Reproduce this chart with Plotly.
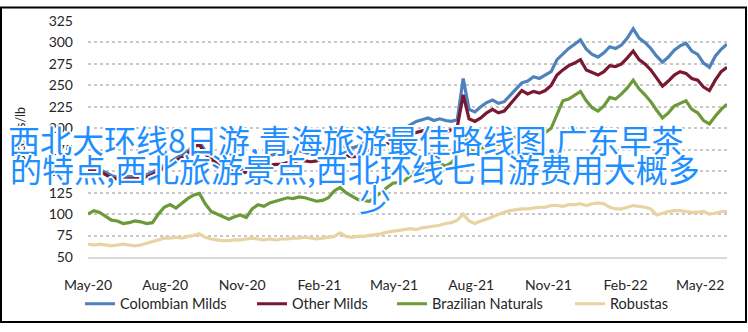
import pandas as pd
import plotly.graph_objects as go

# Weekly coffee group indicator prices, May 2020 - early June 2022 (US cents/lb)
start_date = "2020-05-01"
end_date = "2022-06-02"

colombian_milds = [
    155, 154, 152, 148, 145, 143, 142, 144, 143, 145,
    146, 149, 153, 157, 161, 165, 168, 173, 180, 184,
    174, 168, 164, 160, 157, 154, 152, 155, 160, 163,
    166, 168, 170, 169, 172, 171, 174, 172, 170, 173,
    176, 175, 178, 180, 178, 177, 179, 183, 186, 189,
    190, 192, 190, 193, 200, 204, 208, 210, 212, 209,
    211, 209, 208, 210, 258, 222, 219, 225, 230, 233,
    229, 231, 238, 246, 253, 255, 260, 258, 262, 266,
    280, 287, 293, 298, 303, 292, 286, 283, 288, 295,
    293, 297, 305, 316, 305, 300, 293, 284, 277, 283,
    291, 296, 299, 290, 286, 276, 271, 284, 292, 298,
]

other_milds = [
    152, 151, 150, 146, 142, 141, 140, 141, 141, 142,
    143, 146, 150, 154, 158, 161, 165, 170, 178, 181,
    170, 164, 160, 156, 152, 149, 147, 149, 152, 154,
    156, 157, 158, 158, 160, 160, 163, 162, 161, 162,
    165, 165, 166, 168, 168, 167, 167, 171, 175, 178,
    180, 182, 184, 186, 188, 192, 195, 197, 197, 196,
    195, 195, 198, 202, 239, 211, 208, 212, 218, 222,
    218, 220, 228, 236, 244, 240, 243, 241, 244, 250,
    262, 268, 273, 276, 280, 268, 265, 262, 266, 273,
    272, 275, 282, 290, 280, 275, 268, 258, 249, 255,
    262, 266, 264, 258, 256, 248, 244, 256, 266, 271,
]

brazilian_naturals = [
    100, 104, 102, 97, 93, 92, 89, 90, 92, 91,
    89, 90, 100, 108, 111, 107, 113, 118, 122, 124,
    112, 103, 100, 97, 94, 97, 99, 96, 106, 111,
    109, 113, 115, 117, 119, 118, 120, 119, 117, 115,
    116, 119, 127, 131, 125, 121, 117, 116, 115, 120,
    126, 131, 136, 137, 139, 145, 149, 151, 154, 157,
    159, 156, 160, 168, 200, 176, 172, 176, 180, 183,
    181, 183, 186, 190, 188, 185, 190, 193, 195, 200,
    217, 232, 234, 238, 243, 232, 224, 220, 226, 236,
    234, 240, 247, 256, 246, 239, 231, 221, 212, 218,
    226, 229, 232, 222, 218, 209, 205, 214, 222, 228,
]

robustas = [
    65, 64, 65, 64, 63, 64, 65, 64, 63, 64,
    66, 68, 70, 72, 72, 73, 72, 74, 75, 77,
    73, 71, 70, 69, 69, 70, 70, 71, 72, 71,
    70, 71, 70, 71, 71, 72, 72, 73, 72, 71,
    72, 73, 74, 78, 74, 73, 74, 74, 75, 76,
    77, 79, 80, 81, 82, 83, 82, 84, 85, 86,
    87, 89, 90, 93, 100, 92, 89, 92, 94, 97,
    100, 102, 104, 105, 106, 106, 107, 108, 108, 110,
    110, 109, 111, 111, 112, 110, 112, 113, 112, 108,
    106, 106, 108, 110, 109, 108, 106, 99, 101, 103,
    104, 104, 103, 102, 102, 103, 100, 101, 103, 103,
]

series_names = ["Colombian Milds", "Other Milds", "Brazilian Naturals", "Robustas"]
series_colors = ["#4F81BD", "#7A1731", "#6C9A3B", "#E8D3A2"]
series_values = [colombian_milds, other_milds, brazilian_naturals, robustas]

y_ticks = [50, 75, 100, 125, 150, 175, 200, 225, 250, 275, 300, 325]
x_tick_labels = ["May-20", "Aug-20", "Nov-20", "Feb-21", "May-21",
                 "Aug-21", "Nov-21", "Feb-22", "May-22"]
x_tick_dates = pd.date_range("2020-05-01", periods=len(x_tick_labels), freq="3MS")

overlay_lines = [
    "西北大环线8日游,青海旅游最佳路线图,广东早茶",
    "的特点,西北旅游景点,西北环线七日游费用大概多",
    "少",
]

dates = pd.date_range(start_date, end_date, periods=len(colombian_milds))

W, H = 748, 332
ml, mr, mt, mb = 88, 21, 15, 70
pw, ph = W - ml - mr, H - mt - mb


def px_x(x):
    return (x - ml) / pw


def px_y(y):
    return (mt + ph - y) / ph


font_main = "Lato, 'Noto Sans', sans-serif"
legend_ids = ["legend", "legend2", "legend3", "legend4"]
legend_left = [80, 252, 392, 570]

fig = go.Figure()
for name, color, values, lid in zip(series_names, series_colors, series_values, legend_ids):
    fig.add_trace(go.Scatter(
        x=dates, y=values, name=name, mode="lines",
        line=dict(color=color, width=3.2), legend=lid,
    ))

legend_layouts = {
    lid: dict(
        orientation="h", x=px_x(left), xanchor="left",
        y=px_y(311), yanchor="middle",
        font=dict(size=14.5, color="#262626"), itemwidth=30,
        bgcolor="rgba(0,0,0,0)",
    )
    for lid, left in zip(legend_ids, legend_left)
}

fig.update_layout(
    width=W, height=H,
    margin=dict(l=ml, r=mr, t=mt, b=mb),
    paper_bgcolor="white", plot_bgcolor="white",
    font=dict(family=font_main, size=14, color="#262626"),
    showlegend=True,
    xaxis=dict(
        range=[dates[0], dates[-1]],
        tickvals=x_tick_dates, ticktext=x_tick_labels,
        showgrid=False, zeroline=False,
        showline=True, linecolor="#D9D9D9", linewidth=2,
        ticks="", ticklabelstandoff=14,
        tickfont=dict(size=14),
    ),
    yaxis=dict(
        range=[50, 325], tickvals=y_ticks,
        showgrid=True, gridcolor="#C8C8C8", griddash="dot", gridwidth=1.5,
        zeroline=False, showline=False, ticks="",
        ticklabelstandoff=14,
        tickfont=dict(size=14),
        title=dict(text="US cents/lb", font=dict(size=12.5, color="#262626"),
                   standoff=20),
    ),
    **legend_layouts,
)

# frame around the whole figure
fig.add_shape(
    type="rect", xref="paper", yref="paper",
    x0=px_x(1), x1=px_x(W - 2), y0=px_y(H - 2), y1=px_y(1),
    line=dict(color="black", width=2), fillcolor="rgba(0,0,0,0)", layer="above",
)

outline = ", ".join(f"{dx}px {dy}px 0 white" for dx, dy in
                    [(1, 1), (-1, -1), (1, -1), (-1, 1), (0, 2), (0, -2), (2, 0), (-2, 0)])
overlay_font = dict(family="'Noto Sans CJK SC', sans-serif", size=32,
                    color="#1E8FFF", shadow=outline)

# overlay caption: two left-aligned rows plus a centred last character
for text, x, y, anchor in [(overlay_lines[0], 6, 139, "left"),
                           (overlay_lines[1], 8, 169, "left"),
                           (overlay_lines[2], 375, 200, "center")]:
    fig.add_annotation(
        xref="paper", yref="paper", x=px_x(x), y=px_y(y),
        text=text, showarrow=False, xanchor=anchor, yanchor="middle",
        font=overlay_font,
    )

fig.write_html("out.html")
